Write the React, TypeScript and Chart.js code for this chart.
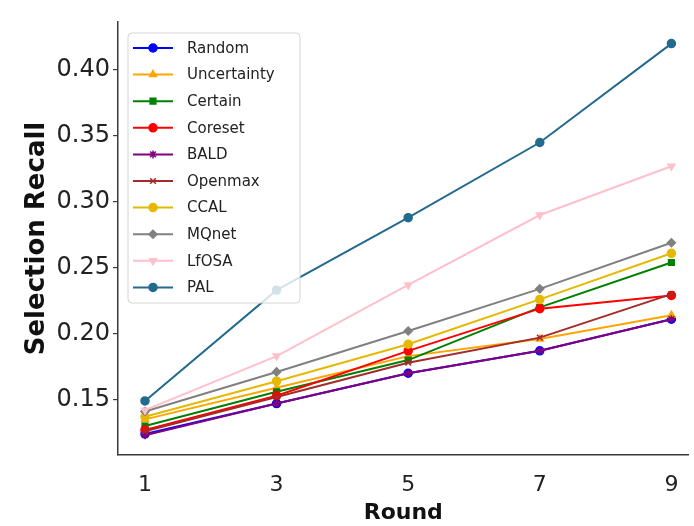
import React, { useEffect, useRef } from 'react';
import { Chart, registerables } from 'chart.js';
import { drawPoint } from 'chart.js/helpers';

Chart.register(...registerables);

const ROUNDS = [1, 3, 5, 7, 9];
const Y_TICKS = [0.15, 0.2, 0.25, 0.3, 0.35, 0.4];

const RANDOM = [0.124, 0.147, 0.17, 0.187, 0.211];
const UNCERTAINTY = [0.135, 0.159, 0.183, 0.196, 0.214];
const CERTAIN = [0.13, 0.156, 0.18, 0.22, 0.254];
const CORESET = [0.127, 0.153, 0.187, 0.219, 0.229];
const BALD = [0.123, 0.147, 0.17, 0.187, 0.211];
const OPENMAX = [0.126, 0.152, 0.178, 0.197, 0.23];
const CCAL = [0.137, 0.164, 0.192, 0.226, 0.261];
const MQNET = [0.141, 0.171, 0.202, 0.234, 0.269];
const LFOSA = [0.142, 0.183, 0.237, 0.29, 0.327];
const PAL = [0.149, 0.233, 0.288, 0.345, 0.42];

const SERIES_NAMES = ['Random', 'Uncertainty', 'Certain', 'Coreset', 'BALD', 'Openmax', 'CCAL', 'MQnet', 'LfOSA', 'PAL'];
const SERIES_VALUES = [RANDOM, UNCERTAINTY, CERTAIN, CORESET, BALD, OPENMAX, CCAL, MQNET, LFOSA, PAL];
const COLORS = ['#0000ff', '#ffa500', '#008000', '#ff0000', '#800080', '#a52a2a', '#e6b800', '#808080', '#ffc0cb', '#236b8e'];
const MARKERS = ['circle', 'triangle', 'rect', 'circle', 'star', 'crossRot', 'circle', 'rectRot', 'triangle', 'circle'];
const ROTATIONS = [0, 0, 0, 0, 0, 0, 0, 0, 180, 0];

const FONT = '"DejaVu Sans", sans-serif';

const insideLegend = {
  id: 'insideLegend',
  afterDraw(chart: any) {
    const ctx = chart.ctx as CanvasRenderingContext2D;
    const area = chart.chartArea;
    const x0 = area.left + 10;
    const y0 = area.top + 11;
    const w = 172;
    const h = 270;
    const r = 4;
    ctx.save();
    ctx.beginPath();
    ctx.moveTo(x0 + r, y0);
    ctx.lineTo(x0 + w - r, y0);
    ctx.quadraticCurveTo(x0 + w, y0, x0 + w, y0 + r);
    ctx.lineTo(x0 + w, y0 + h - r);
    ctx.quadraticCurveTo(x0 + w, y0 + h, x0 + w - r, y0 + h);
    ctx.lineTo(x0 + r, y0 + h);
    ctx.quadraticCurveTo(x0, y0 + h, x0, y0 + h - r);
    ctx.lineTo(x0, y0 + r);
    ctx.quadraticCurveTo(x0, y0, x0 + r, y0);
    ctx.closePath();
    ctx.fillStyle = 'rgba(255,255,255,0.8)';
    ctx.fill();
    ctx.strokeStyle = '#d4d4d4';
    ctx.lineWidth = 1;
    ctx.stroke();

    chart.data.datasets.forEach((ds: any, i: number) => {
      const y = y0 + 15 + i * 26.6;
      ctx.strokeStyle = ds.borderColor;
      ctx.lineWidth = 2;
      ctx.beginPath();
      ctx.moveTo(x0 + 5, y);
      ctx.lineTo(x0 + 45, y);
      ctx.stroke();
      ctx.fillStyle = ds.borderColor;
      ctx.strokeStyle = ds.borderColor;
      ctx.lineWidth = 1.5;
      drawPoint(ctx, { pointStyle: ds.pointStyle, radius: 4, borderWidth: 1.5, rotation: ds.pointRotation || 0 } as any, x0 + 25, y);
      ctx.fillStyle = '#222';
      ctx.font = `15px ${FONT}`;
      ctx.textBaseline = 'middle';
      ctx.textAlign = 'left';
      ctx.fillText(ds.label, x0 + 59, y + 1);
    });
    ctx.restore();
  },
};

export default function App() {
  const ref = useRef<HTMLCanvasElement>(null);

  useEffect(() => {
    if (!ref.current) return;
    const n = SERIES_NAMES.length;
    const chart = new Chart(ref.current, {
      type: 'line',
      data: {
        datasets: SERIES_NAMES.map((name, i) => ({
          label: name,
          data: ROUNDS.map((r, j) => ({ x: r, y: SERIES_VALUES[i][j] })),
          borderColor: COLORS[i],
          backgroundColor: COLORS[i],
          pointBackgroundColor: COLORS[i],
          pointBorderColor: COLORS[i],
          pointStyle: MARKERS[i] as any,
          pointRotation: ROTATIONS[i],
          pointRadius: 4,
          pointBorderWidth: 1.5,
          borderWidth: 2,
          tension: 0,
          order: n - 1 - i,
        })),
      },
      options: {
        responsive: false,
        animation: false,
        layout: { padding: { top: 22, right: 0, left: 0, bottom: 0 } },
        plugins: {
          legend: { display: false },
          tooltip: { enabled: false },
        },
        scales: {
          x: {
            type: 'linear',
            min: 0.59,
            max: 9.26,
            afterBuildTicks: (axis: any) => {
              axis.ticks = ROUNDS.map((v) => ({ value: v }));
            },
            afterFit: (scale: any) => {
              scale.height = 71;
            },
            grid: { display: false },
            border: { display: true, color: '#3a3a3a', width: 1.5 },
            ticks: {
              font: { family: FONT, size: 22 },
              color: '#222',
              padding: 9,
              maxRotation: 0,
              callback: (v: any) => String(v),
            },
            title: {
              display: true,
              text: 'Round',
              font: { family: FONT, size: 22, weight: 'bold' },
              color: '#111',
              padding: { top: 0, bottom: 0 },
            },
          },
          y: {
            type: 'linear',
            min: 0.108,
            max: 0.4364,
            afterBuildTicks: (axis: any) => {
              axis.ticks = Y_TICKS.map((v) => ({ value: v }));
            },
            afterFit: (scale: any) => {
              scale.width = 118;
            },
            grid: { display: true, drawOnChartArea: false, drawTicks: true, tickLength: 5, color: '#3a3a3a', lineWidth: 1.2 },
            border: { display: true, color: '#3a3a3a', width: 1.5 },
            ticks: {
              font: { family: FONT, size: 24 },
              color: '#222',
              padding: 3,
              callback: (v: any) => Number(v).toFixed(2),
            },
            title: {
              display: true,
              text: 'Selection Recall',
              font: { family: FONT, size: 26, weight: 'bold' },
              color: '#111',
              padding: { top: 22, bottom: 0 },
            },
          },
        },
      },
      plugins: [insideLegend],
    });
    return () => chart.destroy();
  }, []);

  return (
    <canvas
      ref={ref}
      width={694}
      height={526}
      style={{ position: 'absolute', left: 0, top: 0, width: 694, height: 526 }}
    />
  );
}
